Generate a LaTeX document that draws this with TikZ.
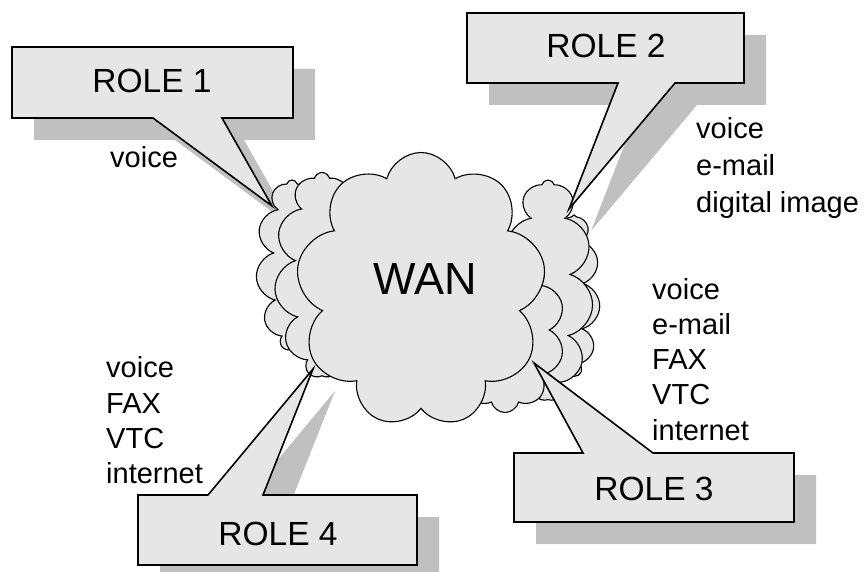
\documentclass[tikz,border=0pt]{standalone}
\usepackage{fontspec}
\setmainfont{Liberation Sans}
\usetikzlibrary{shapes.symbols}
\definecolor{boxfill}{HTML}{E6E6E6}
\definecolor{shadowc}{HTML}{C0C0C0}
\begin{document}
\begin{tikzpicture}[x=1pt,y=-1pt,
  callout/.style={fill=boxfill, draw=black, line width=1.6pt, line join=miter},
  shadowfill/.style={fill=shadowc},
  rolelbl/.style={font=\fontsize{33.5}{40}\selectfont, anchor=base, inner sep=0},
  item/.style={font=\fontsize{29}{35}\selectfont, anchor=base west, inner sep=0},
  wancloud/.style={cloud, cloud ignores aspect, draw=black, fill=boxfill, line width=1.1pt, inner sep=0}]
\useasboundingbox (0,0) rectangle (867,572);

% shadows
\fill[shadowfill] (34,69) -- (315,69) -- (315,140) -- (244,140) -- (294,228) -- (175,140) -- (34,140) -- cycle;
\fill[shadowfill] (489,35) -- (766,35) -- (766,105) -- (697,105) -- (591,231) -- (640,105) -- (489,105) -- cycle;
\fill[shadowfill] (536,475) -- (605,475) -- (556,385) -- (675,475) -- (816,475) -- (816,544) -- (536,544) -- cycle;
\fill[shadowfill] (160,517) -- (230,517) -- (335,391) -- (285,517) -- (439,517) -- (439,587) -- (160,587) -- cycle;

% cloud
\node[wancloud, cloud puffs=11, minimum width=72pt, minimum height=170pt] (c1) at (292,265) {};
\node[wancloud, cloud puffs=11, minimum width=95pt, minimum height=205pt] (c2) at (322,275) {};
\node[wancloud, cloud puffs=11, minimum width=52pt, minimum height=160pt] (c3) at (574,295) {};
\node[wancloud, cloud puffs=11, minimum width=90pt, minimum height=220pt] (c4) at (548,290) {};
\node[wancloud, cloud puffs=10, minimum width=120pt, minimum height=165pt] (c5) at (505,330) {};
\node[wancloud, cloud puffs=9, minimum width=250pt, minimum height=275pt] (wan) at (421,290) {};
\node[font=\fontsize{45}{52}\selectfont, anchor=base, inner sep=0] (wanlbl) at (425,294) {WAN};

% callouts
\coordinate (t1) at (272,206);
\coordinate (t2) at (569,209);
\coordinate (t3) at (534,363);
\coordinate (t4) at (313,369);
\draw[callout] (12,47) -- (293,47) -- (293,118) -- (222,118) -- (t1) -- (153,118) -- (12,118) -- cycle;
\draw[callout] (467,13) -- (744,13) -- (744,83) -- (675,83) -- (t2) -- (618,83) -- (467,83) -- cycle;
\draw[callout] (514,453) -- (583,453) -- (t3) -- (653,453) -- (794,453) -- (794,522) -- (514,522) -- cycle;
\draw[callout] (138,495) -- (208,495) -- (t4) -- (263,495) -- (417,495) -- (417,565) -- (138,565) -- cycle;

\node[rolelbl] (r1) at (152,93) {ROLE 1};
\node[rolelbl] (r2) at (606,58) {ROLE 2};
\node[rolelbl] (r3) at (654,500) {ROLE 3};
\node[rolelbl] (r4) at (278,545) {ROLE 4};

% service lists
\node[item] (a1) at (110,168) {voice};

\node[item] (b1) at (696,139) {voice};
\node[item] (b2) at (696,176) {e-mail};
\node[item] (b3) at (696,213) {digital image};

\node[item] (d1) at (652,299) {voice};
\node[item] (d2) at (652,334) {e-mail};
\node[item] (d3) at (652,369) {FAX};
\node[item] (d4) at (652,404) {VTC};
\node[item] (d5) at (652,440) {internet};

\node[item] (e1) at (106,377) {voice};
\node[item] (e2) at (106,413) {FAX};
\node[item] (e3) at (106,448) {VTC};
\node[item] (e4) at (106,483) {internet};
\end{tikzpicture}
\end{document}
